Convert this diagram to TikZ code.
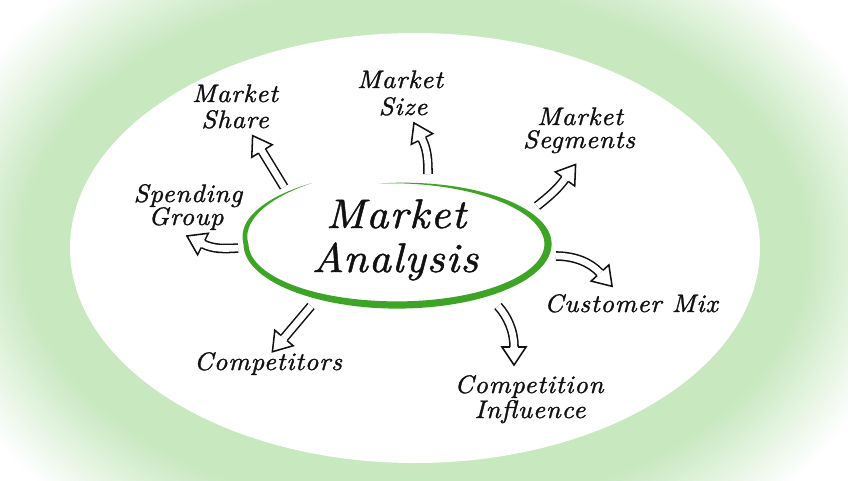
\documentclass[tikz,border=0pt]{standalone}
\usepackage{fontspec}
\newfontfamily\handfont{lmroman10-italic.otf}[FakeStretch=1.05, LetterSpace=3, FakeBold=1.2]
\usetikzlibrary{decorations.markings}
\definecolor{bggreen}{RGB}{200,232,192}
\definecolor{ringgreen}{RGB}{62,164,38}
\definecolor{ink}{RGB}{17,17,17}
\begin{document}
\begin{tikzpicture}[x=0.75pt,y=-0.75pt,
  declare function={
    wd(\t) = (\t<-10) ? 3.6*(\t+97)/87 : ((\t<100) ? 3.6 : ((\t<200) ? 3.6-1.4*(\t-100)/100 : 2.2*(240-\t)/40));
    rxf(\t) = 151 + ((\t>180) ? 0.317*(\t-180) : 0);
    ryf(\t) = 61 + ((\t>180) ? 0.157*(\t-180) : 0);
  },
  lbl/.style={anchor=base, text=ink, inner sep=0pt,
    font=\handfont\fontsize{19}{23}\selectfont},
  big/.style={anchor=base, text=ink, inner sep=0pt,
    font=\handfont\fontsize{31}{37}\selectfont},
  harrow/.style={
    preaction={draw=ink, line width=1.15pt, double=white, double distance=4.9pt},
    postaction={decorate},
    decoration={markings, mark=at position 1 with {
      \fill[white] (0,-12)--(18,0)--(0,12)--cycle;
      \draw[ink, line width=1.15pt, line join=miter] (0,-4.0)--(0,-12)--(18,0)--(0,12)--(0,4.0);}}}
]
\useasboundingbox (0,0) rectangle (848,480);
% background
\fill[white] (0,0) rectangle (848,480);
\begin{scope}
\clip (0,0) rectangle (848,480);
\foreach \i in {45,44,...,0}{
  \pgfmathsetmacro{\d}{4*\i}
  \pgfmathsetmacro{\f}{\d<50 ? 100 : max(0,150-\d)}
  \fill[bggreen!\f!white] (415,248) ellipse [x radius={345+\d}, y radius={215+\d}];
}
\end{scope}
\fill[white] (415,248) ellipse [x radius=345, y radius=215];
% green hand-drawn ring
\fill[ringgreen]
  plot[domain=-97:240, samples=140, variable=\t] ({397+(rxf(\t)+wd(\t))*cos(\t)}, {244+(ryf(\t)+wd(\t))*sin(\t)})
  -- plot[domain=240:-97, samples=140, variable=\t] ({397+(rxf(\t)-wd(\t))*cos(\t)}, {244+(ryf(\t)-wd(\t))*sin(\t)})
  -- cycle;
% central text
\node[big] (ma1) at (396,228) {Market};
\node[big] (ma2) at (395,272) {Analysis};
% labels
\node[lbl] (share1) at (235,102) {Market};
\node[lbl] (share2) at (235,128) {Share};
\node[lbl] (size1) at (400,88) {Market};
\node[lbl] (size2) at (403,115) {Size};
\node[lbl] (seg1) at (580,125) {Market};
\node[lbl] (seg2) at (579,148) {Segments};
\node[lbl] (spend1) at (188,202) {Spending};
\node[lbl] (spend2) at (186,225) {Group};
\node[lbl] (comp) at (268,370) {Competitors};
\node[lbl] (cust) at (631,312) {Customer Mix};
\node[lbl] (infl1) at (529,393) {Competition};
\node[lbl] (infl2) at (530,418) {Influence};
% arrows
\coordinate (shareT) at (284,187); \coordinate (shareH) at (262,151);
\path[harrow] (shareT) -- (shareH);
\coordinate (sizeT) at (428,174); \coordinate (sizeH) at (422,139);
\path[harrow] (sizeT) .. controls (428,158) and (427,149) .. (sizeH);
\coordinate (segT) at (537,206); \coordinate (segH) at (565,179);
\path[harrow] (segT) .. controls (547,198) and (557,190) .. (segH);
\coordinate (custT) at (556,256); \coordinate (custH) at (600,273);
\path[harrow] (custT) .. controls (574,256) and (590,262) .. (custH);
\coordinate (inflT) at (498,306); \coordinate (inflH) at (514,347);
\path[harrow] (inflT) .. controls (507,316) and (514,330) .. (inflH);
\coordinate (compT) at (311,306); \coordinate (compH) at (284,338);
\path[harrow] (compT) -- (compH);
\coordinate (spendT) at (238,248); \coordinate (spendH) at (203,244);
\path[harrow] (spendT) .. controls (224,249) and (213,249) .. (spendH);
\end{tikzpicture}
\end{document}
